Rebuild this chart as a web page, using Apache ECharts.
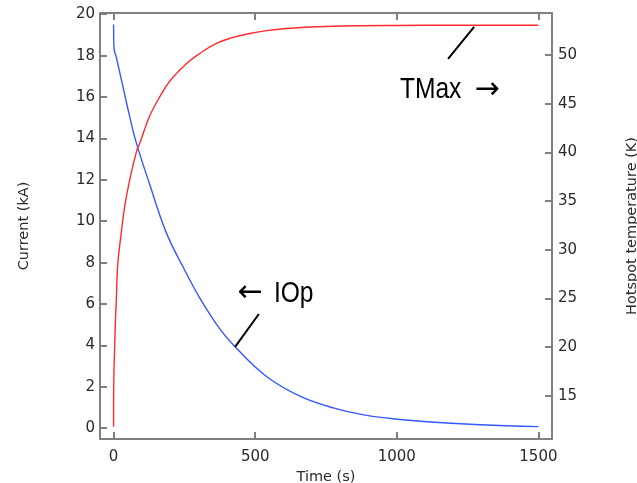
<!DOCTYPE html>
<html>
<head>
<meta charset="utf-8">
<script src="https://cdn.jsdelivr.net/npm/echarts@6/dist/echarts.min.js"></script>
<style>html,body{margin:0;padding:0;background:#fff}#c{width:637px;height:483px}</style>
</head>
<body>
<div id="c"></div>
<script>
// Data
var timeRed = [0, 0, 0.5, 1.5, 3.5, 6, 9.5, 15, 27, 39, 57, 82, 92, 127, 163, 198, 257, 304, 363, 422, 481, 540, 611, 717, 850, 1000, 1200, 1500];
var tempValues = [11.8, 14.2, 16.0, 17.8, 19.7, 22.3, 24.8, 28.6, 31.7, 34.4, 37.2, 40.2, 40.9, 43.7, 45.7, 47.3, 49.1, 50.15, 51.2, 51.8, 52.2, 52.5, 52.72, 52.9, 53.0, 53.03, 53.05, 53.05];
var timeBlue = [0, 0.5, 2, 9, 33, 57, 80, 127, 186, 245, 304, 375, 428, 540, 658, 776, 894, 1012, 1118, 1295, 1500];
var currentValues = [19.5, 18.8, 18.3, 17.95, 16.5, 15.05, 13.8, 11.8, 9.45, 7.8, 6.3, 4.8, 3.95, 2.5, 1.55, 0.98, 0.62, 0.42, 0.3, 0.17, 0.08];
var timeTicks = [0, 500, 1000, 1500];
var currentTicks = [0, 2, 4, 6, 8, 10, 12, 14, 16, 18, 20];
var tempTicks = [15, 20, 25, 30, 35, 40, 45, 50];
var tmaxWord = 'TMax';
var iopWord = 'IOp';
var arrowRight = '\u2192';
var arrowLeft = '\u2190';
// annotation anchor points (data coordinates)
var tmaxLine = [[1181, 49.6], [1273, 52.88]];
var tmaxTextAt = [1011, 46.4];   // left edge of word (time, K)
var tmaxArrowAt = [1274, 46.4];  // left edge of arrow (time, K)
var iopLine = [[513, 5.52], [429, 3.93]];
var iopArrowAt = [438, 6.5];     // left edge of arrow (time, kA)
var iopTextAt = [566, 6.5];      // left edge of word (time, kA)

var redData = timeRed.map(function (t, i) { return [t, tempValues[i]]; });
var blueData = timeBlue.map(function (t, i) { return [t, currentValues[i]]; });

var axisColor = '#808080';
var labelFont = 'DejaVu Sans';
var annFont = '"Liberation Sans", Arial, sans-serif';

function axisBase() {
  return {
    axisLine: { show: true, onZero: false, lineStyle: { color: axisColor, width: 2 } },
    axisTick: { show: true, inside: true, length: 7, lineStyle: { color: axisColor, width: 2 } },
    splitLine: { show: false },
    axisLabel: { color: '#2a2a2a', fontSize: 15, fontFamily: labelFont, formatter: function (v) { return String(v); } },
    nameTextStyle: { color: '#2a2a2a', fontSize: 14.5, fontFamily: labelFont },
    nameLocation: 'middle'
  };
}

var xBottom = axisBase();
Object.assign(xBottom, { type: 'value', position: 'bottom', min: -48, max: 1548, name: 'Time (s)', nameGap: 23 });
xBottom.axisTick.customValues = timeTicks;
xBottom.axisLabel.customValues = timeTicks;
xBottom.axisLabel.margin = 11;

var xTop = axisBase();
Object.assign(xTop, { type: 'value', position: 'top', min: -48, max: 1548 });
xTop.axisTick.customValues = timeTicks;
xTop.axisLabel.show = false;

var yLeft = axisBase();
Object.assign(yLeft, { type: 'value', position: 'left', min: -0.52, max: 20.06, name: 'Current (kA)', nameGap: 68 });
yLeft.axisTick.customValues = currentTicks;
yLeft.axisLabel.customValues = currentTicks;
yLeft.axisLabel.margin = 5;

var yRight = axisBase();
Object.assign(yRight, { type: 'value', position: 'right', min: 10.55, max: 54.31, name: 'Hotspot temperature (K)', nameGap: 73 });
yRight.axisTick.customValues = tempTicks;
yRight.axisLabel.customValues = tempTicks;
yRight.axisLabel.margin = 6;

var option = {
  animation: false,
  grid: { left: 100, right: 85, top: 13, bottom: 44, outerBoundsMode: 'none', containLabel: false },
  xAxis: [xBottom, xTop],
  yAxis: [yLeft, yRight],
  series: [
    {
      type: 'line', name: 'IOp', xAxisIndex: 0, yAxisIndex: 0, data: blueData,
      showSymbol: false, smooth: 0.4,
      lineStyle: { color: '#3658ff', width: 1.4 },
      markLine: {
        silent: true, symbol: 'none', animation: false,
        label: { show: false },
        lineStyle: { color: '#000', width: 2, type: 'solid' },
        data: [[{ coord: iopLine[0] }, { coord: iopLine[1] }]]
      }
    },
    {
      type: 'line', name: 'TMax', xAxisIndex: 0, yAxisIndex: 1, data: redData,
      showSymbol: false, smooth: 0.4,
      lineStyle: { color: '#ff2a2a', width: 1.4 },
      markLine: {
        silent: true, symbol: 'none', animation: false,
        label: { show: false },
        lineStyle: { color: '#000', width: 2, type: 'solid' },
        data: [[{ coord: tmaxLine[0] }, { coord: tmaxLine[1] }]]
      }
    }
  ]
};

var chart = echarts.init(document.getElementById('c'), null, { renderer: 'canvas' });
chart.setOption(option);

function px(axisIdx, p) { return chart.convertToPixel({ xAxisIndex: 0, yAxisIndex: axisIdx }, p); }
function word(text, p) {
  return { type: 'text', x: p[0], y: p[1], scaleX: 0.82, silent: true,
    style: { text: text, fill: '#000', font: '30px ' + annFont, verticalAlign: 'middle', align: 'left' } };
}
function arrow(text, p) {
  return { type: 'text', x: p[0], y: p[1], silent: true,
    style: { text: text, fill: '#000', font: '30px "DejaVu Sans"', verticalAlign: 'middle', align: 'left' } };
}
chart.setOption({
  graphic: [
    word(tmaxWord, px(1, tmaxTextAt)),
    arrow(arrowRight, px(1, tmaxArrowAt)),
    arrow(arrowLeft, px(0, iopArrowAt)),
    word(iopWord, px(0, iopTextAt))
  ]
});
</script>
</body>
</html>
